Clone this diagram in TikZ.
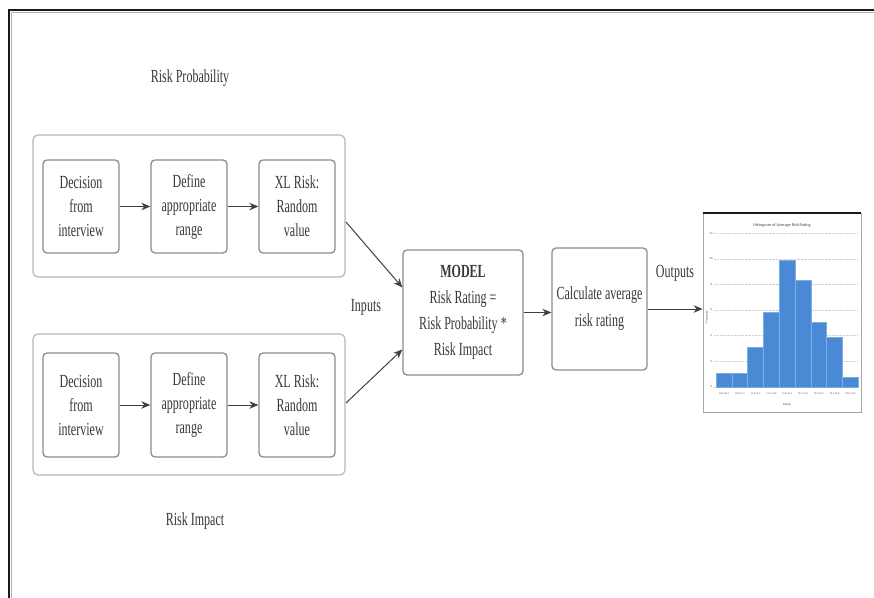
\documentclass[tikz,border=0pt]{standalone}
\usepackage{fontspec}
\setmainfont{Liberation Serif}[FakeStretch=0.65]
\newfontfamily\chartfont{Carlito}
\usetikzlibrary{arrows.meta,calc}
\definecolor{barblue}{RGB}{74,137,214}
\begin{document}
\begin{tikzpicture}[x=1pt,y=-1pt,
  font=\fontsize{18.5}{24}\selectfont, text=black!78,
  groupbox/.style={draw=black!28, line width=1.2pt, rounded corners=5pt, inner sep=0pt},
  stepbox/.style={draw=black!45, line width=1.3pt, rounded corners=4pt, fill=white, align=center, inner sep=0pt},
  arr/.style={draw=black!75, line width=1pt, -{Stealth[length=9pt,width=7.5pt]}},
  lbl/.style={inner sep=0pt},
  chtxt/.style={inner sep=0pt, text=black!70, font=\chartfont\fontsize{3}{3.5}\selectfont}]
\useasboundingbox (0,0) rectangle (874,597);
\fill[white] (0,0) rectangle (874,597);
% outer frame
\draw[black!30, line width=1.5pt] (11.5,599) -- (11.5,12.5) -- (876,12.5);
\draw[black!90, line width=2.6pt] (9,599) -- (9,10) -- (876,10);

% labels
\node[lbl] (rp) at (190,78) {Risk Probability};
\node[lbl] (ri) at (195,521) {Risk Impact};
\node[lbl] (inp) at (366,307) {Inputs};
\node[lbl] (outp) at (675,273) {Outputs};

% group boxes
\node[groupbox, minimum width=312pt, minimum height=142pt] (g1) at (189,206) {};
\node[groupbox, minimum width=312pt, minimum height=141pt] (g2) at (189,404.5) {};

% top row
\node[stepbox, minimum width=76pt, minimum height=93pt] (a1) at (81,206.5) {Decision\\from\\interview};
\node[stepbox, minimum width=76pt, minimum height=93pt] (a2) at (189,206.5) {Define\\appropriate\\range};
\node[stepbox, minimum width=76pt, minimum height=93pt] (a3) at (297,206.5) {XL Risk:\\Random\\value};
% bottom row
\node[stepbox, minimum width=76pt, minimum height=104pt] (b1) at (81,405) {Decision\\from\\interview};
\node[stepbox, minimum width=76pt, minimum height=104pt] (b2) at (189,405) {Define\\appropriate\\range};
\node[stepbox, minimum width=76pt, minimum height=104pt] (b3) at (297,405) {XL Risk:\\Random\\value};

\draw[arr] (a1) -- (a2);
\draw[arr] (a2) -- (a3);
\draw[arr] (b1) -- (b2);
\draw[arr] (b2) -- (b3);

% model and calc
\node[stepbox, minimum width=120pt, minimum height=125pt, font=\fontsize{18.5}{26}\selectfont] (model) at (463,312.5)
  {\textbf{MODEL}\\Risk Rating =\\Risk Probability *\\Risk Impact};
\node[stepbox, minimum width=95pt, minimum height=122pt, font=\fontsize{18.5}{27}\selectfont] (calc) at (599.5,309)
  {Calculate average\\risk rating};

\coordinate (s1) at (346,222);
\coordinate (s2) at (346,403);
\draw[arr] (s1) -- ($(model.west)+(0,-25)$);
\draw[arr] (s2) -- ($(model.west)+(0,37)$);
\draw[arr] (model.east) -- (model.east -| calc.west);

% chart
\node[draw=black!35, line width=0.8pt, minimum width=158pt, minimum height=199pt, inner sep=0pt, fill=white] (chart) at (782,312.5) {};
\draw[arr] (calc.east) -- (calc.east -| chart.west);
\draw[black!90, line width=2pt] (chart.north west) -- (chart.north east);
\node[chtxt, font=\chartfont\fontsize{4.3}{5}\selectfont] (ctitle) at (782,225) {Histogram of Average Risk Rating};
\foreach \v [count=\i from 0] in {0,2,4,6,8,10,12} {
  \pgfmathsetmacro{\yy}{386.7-\i*25.57}
  \draw[black!18, densely dotted, line width=0.4pt] (714,\yy) -- (858,\yy);
  \node[chtxt] (yl\i) at (711,\yy) {\v};
}
\foreach \xa/\xb/\yt in {716/731.8/372.7, 731.8/747.6/372.7, 747.6/763.4/346.7, 763.4/779.2/311.7, 779.2/795/260, 795/810.8/280, 810.8/826.6/321.7, 826.6/842.4/336.7, 842.4/858.2/377.3} {
  \filldraw[fill=barblue, draw=barblue!70!white, line width=0.3pt] (\xa,386.7) rectangle (\xb,\yt);
}
\foreach \lab [count=\i from 0] in {10.6-10.9,10.9-11.2,11.2-11.5,11.5-11.8,11.8-12.1,12.1-12.4,12.4-12.7,12.7-13.0,13.0-13.3} {
  \node[chtxt, font=\chartfont\fontsize{2.6}{3}\selectfont] (xl\i) at (723.9+\i*15.8,394) {\lab};
}
\node[chtxt, rotate=90] (ytitle) at (707,317) {Frequency};
\node[chtxt] (xtitle) at (787,405) {Rating};
\end{tikzpicture}
\end{document}
